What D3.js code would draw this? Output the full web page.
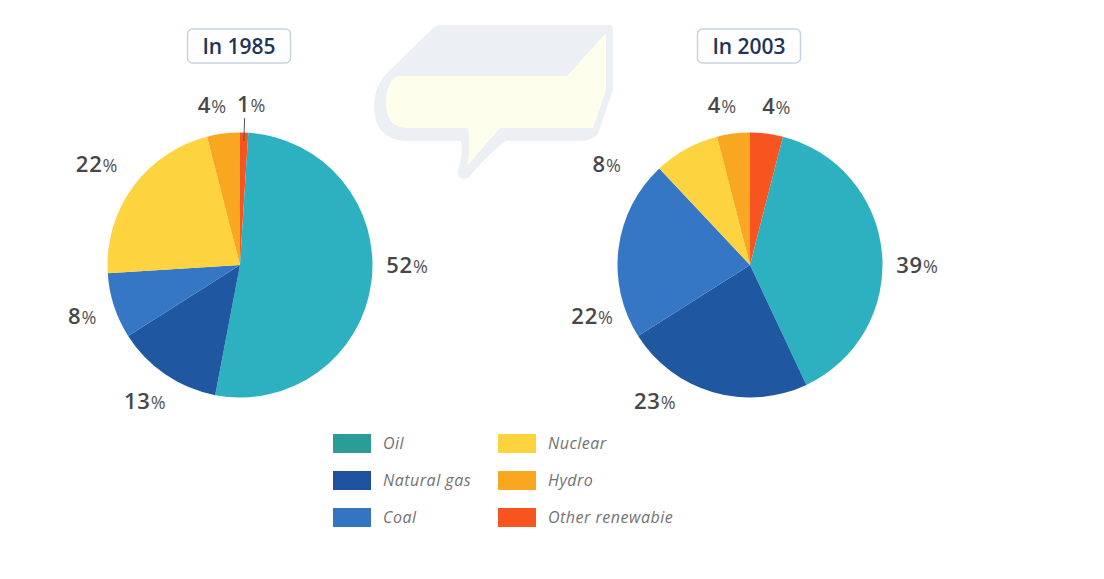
<!DOCTYPE html>
<html>
<head>
<meta charset="utf-8">
<script src="https://cdn.jsdelivr.net/npm/d3@7"></script>
<style>
  html, body { margin: 0; padding: 0; background: #ffffff; }
  svg { display: block; }
</style>
</head>
<body>
<svg id="vis"></svg>
<script>
// data
const categories = ["Oil", "Natural gas", "Coal", "Nuclear", "Hydro", "Other renewabie"];
const values1985 = [52, 13, 8, 22, 4, 1];
const values2003 = [39, 23, 22, 8, 4, 4];
const years = ["1985", "2003"];

drawChart();

function drawChart() {
    const WIDTH = 1104;
    const HEIGHT = 579;
    const RADIUS = 132.5;

    const pieColor = {
        "Oil": "#2db1c0",
        "Natural gas": "#1f57a0",
        "Coal": "#3577c4",
        "Nuclear": "#fdd33f",
        "Hydro": "#f9a620",
        "Other renewabie": "#f8541f"
    };
    const legendColor = Object.assign({}, pieColor, {"Oil": "#2a9d98", "Natural gas": "#1e52a0", "Coal": "#3475c2"});

    // where the label of each category sits: [angle in degrees, radius]
    const labelPos = {
        "Oil": [90, 167],
        "Natural gas": [215, 166],
        "Coal": [252, 166],
        "Nuclear": [305, 175],
        "Hydro": [350, 162]
    };

    // slices go clockwise from 12 o'clock, "Other" first
    const pieOrder = ["Other renewabie", "Oil", "Natural gas", "Coal", "Nuclear", "Hydro"];

    const svg = d3.select("#vis")
        .attr("width", WIDTH)
        .attr("height", HEIGHT)
        .style("font-family", "'Open Sans', sans-serif");

    drawWatermark(svg);

    const centerX = d3.scalePoint().domain(years).range([240, 750]);
    const CY = 265;

    const pie = d3.pie().sort(null).value(d => d.value);
    const arc = d3.arc().innerRadius(0).outerRadius(RADIUS);

    [values1985, values2003].forEach(function(vals, k) {
        const year = years[k];
        const cx = centerX(year);
        const rows = pieOrder.map(c => ({name: c, value: vals[categories.indexOf(c)]}));

        const g = svg.append("g").attr("transform", "translate(" + cx + "," + CY + ")");

        g.selectAll("path.slice")
            .data(pie(rows))
            .enter()
            .append("path")
            .attr("class", "slice")
            .attr("d", arc)
            .attr("fill", d => pieColor[d.data.name]);

        // labels
        const lab = g.selectAll("g.lab")
            .data(pie(rows))
            .enter()
            .append("g")
            .attr("class", "lab");

        lab.each(function(d) {
            const mid = (d.startAngle + d.endAngle) / 2;
            let ang, r;
            if (labelPos[d.data.name]) {
                ang = labelPos[d.data.name][0] * Math.PI / 180;
                r = labelPos[d.data.name][1];
            } else {
                ang = mid + 2.2 * Math.PI / 180;
                r = 161;
            }
            const p = d3.pointRadial(ang, r);
            const t = d3.select(this).append("text")
                .attr("x", p[0])
                .attr("y", p[1] + 7.7)
                .attr("text-anchor", "middle");
            t.append("tspan")
                .attr("font-size", 22)
                .attr("font-weight", 600)
                .attr("letter-spacing", 0.8)
                .attr("fill", "#474747")
                .text(d.data.value);
            t.append("tspan")
                .attr("font-size", 18)
                .attr("font-weight", 400)
                .attr("fill", "#555")
                .text("%");

            // leader line for very thin slices
            if (d.data.value < 2) {
                const a = d3.pointRadial(mid, 147);
                const b = d3.pointRadial(mid, 124);
                d3.select(this).append("line")
                    .attr("x1", a[0]).attr("y1", a[1])
                    .attr("x2", b[0]).attr("y2", b[1])
                    .attr("stroke", "#555")
                    .attr("stroke-width", 1);
            }
        });

        // title box
        const tg = svg.append("g").attr("transform", "translate(" + (cx - 1) + ",46)");
        tg.append("rect")
            .attr("x", -51.5).attr("y", -17)
            .attr("width", 103).attr("height", 34)
            .attr("rx", 5)
            .attr("fill", "#fff")
            .attr("stroke", "#c9d3df")
            .attr("stroke-width", 1.5);
        tg.append("text")
            .attr("text-anchor", "middle")
            .attr("y", 7.5)
            .attr("font-size", 21)
            .attr("font-weight", 600)
            .attr("fill", "#1f3557")
            .text("In " + year);
    });

    // legend
    const legX = d3.scalePoint().domain([0, 1]).range([333, 498]);
    const legY = d3.scalePoint().domain([0, 1, 2]).range([443.5, 517.5]);
    const leg = svg.append("g").selectAll("g")
        .data(categories)
        .enter()
        .append("g")
        .attr("transform", (d, i) => "translate(" + legX(Math.floor(i / 3)) + "," + legY(i % 3) + ")");
    leg.append("rect")
        .attr("x", 0).attr("y", -9.5)
        .attr("width", 38).attr("height", 19)
        .attr("fill", d => legendColor[d]);
    leg.append("text")
        .attr("x", 50)
        .attr("y", 5.5)
        .attr("font-size", 16)
        .attr("letter-spacing", 0.5)
        .attr("font-style", "italic")
        .attr("fill", "#727272")
        .text(d => d);
}

function drawWatermark(svg) {
    const w = svg.append("g");
    w.append("path")
        .attr("d", "M440 25 L609 25 Q613 25 613 30 L613 90 L598 134 Q592 141 580 141 L506 141 Q490 152 468 178 Q456 181 458 170 Q463 155 461 141 L405 141 Q374 139 374 106 Q374 84 392 68 L432 29 Q436 25 440 25 Z")
        .attr("fill", "#eceff3");
    w.append("path")
        .attr("d", "M398 76 L567 76 L606 33 L606 90 L593 128 L500 128 Q488 142 467 166 Q471 150 468 128 L405 128 Q386 126 386 103 Q386 81 398 76 Z")
        .attr("fill", "#fefeed");
}
</script>
</body>
</html>
